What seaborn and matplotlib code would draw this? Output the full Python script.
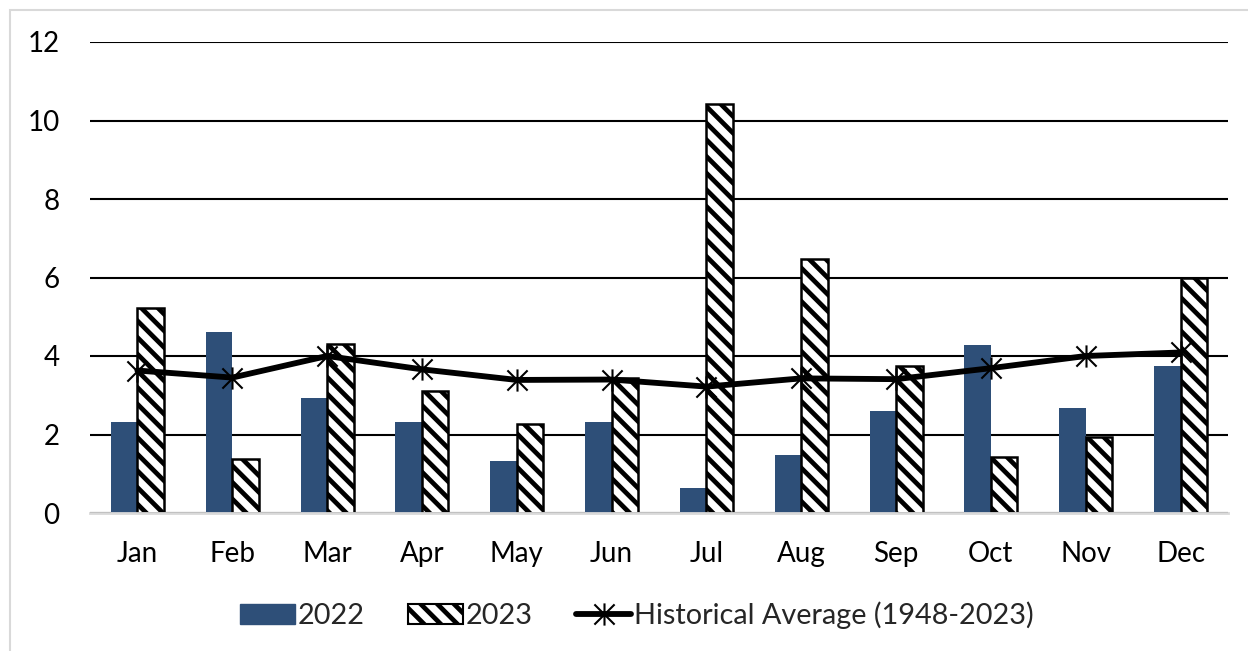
import numpy as np
import pandas as pd
import seaborn as sns
import matplotlib.pyplot as plt
from matplotlib.path import Path
from matplotlib.patches import Patch, Rectangle
from matplotlib.lines import Line2D

months = ["Jan", "Feb", "Mar", "Apr", "May", "Jun",
          "Jul", "Aug", "Sep", "Oct", "Nov", "Dec"]
vals_2022 = [2.33, 4.60, 2.93, 2.31, 1.32, 2.33, 0.63, 1.47, 2.60, 4.27, 2.68, 3.75]
vals_2023 = [5.23, 1.37, 4.30, 3.11, 2.27, 3.45, 10.41, 6.46, 3.75, 1.43, 1.93, 5.98]
hist_avg = [3.63, 3.45, 4.00, 3.66, 3.39, 3.40, 3.22, 3.43, 3.41, 3.69, 4.00, 4.09]
yticks = [0, 2, 4, 6, 8, 10, 12]

BLUE = "#2E4F78"
HATCH = "\\\\"
FS = 20

sns.set_theme(style="white")
plt.rcParams["font.family"] = ["Lato", "DejaVu Sans"]
plt.rcParams["hatch.linewidth"] = 3.4
plt.rcParams["hatch.color"] = "black"

df = pd.DataFrame({
    "month": months * 2,
    "value": vals_2022 + vals_2023,
    "year": ["2022"] * 12 + ["2023"] * 12,
})

fig = plt.figure(figsize=(12.48, 6.51), dpi=100)
ax = fig.add_axes([90 / 1248, 1 - 513 / 651, (1228 - 90) / 1248, (513 - 42) / 651])

sns.barplot(data=df, x="month", y="value", hue="year", order=months,
            hue_order=["2022", "2023"], palette={"2022": BLUE, "2023": "white"},
            saturation=1, width=0.56, gap=0, ax=ax, legend=False, errorbar=None)

n = len(months)
for i, bar in enumerate(ax.patches[:2 * n]):
    if i >= n:
        bar.set_hatch(HATCH)
        bar.set_edgecolor("black")
        bar.set_linewidth(1.8)
    else:
        bar.set_edgecolor(BLUE)
        bar.set_linewidth(0)

# asterisk-style marker: an X crossed by a vertical stroke
star = Path([(-1, -1), (1, 1), (-1, 1), (1, -1), (0, -1.1), (0, 1.1)],
            [Path.MOVETO, Path.LINETO, Path.MOVETO, Path.LINETO, Path.MOVETO, Path.LINETO])

sns.lineplot(x=np.arange(n), y=hist_avg, ax=ax, color="black", lw=4.2,
             marker=star, markersize=16, markeredgewidth=1.5,
             markeredgecolor="black", markerfacecolor="none", zorder=5)

ax.set_xlim(-0.5, n - 0.5)
ax.set_ylim(0, 12)
ax.set_yticks(yticks)
ax.set_yticklabels([str(t) for t in yticks])
ax.yaxis.grid(True, color="black", lw=1.5)
ax.set_axisbelow(True)
for s in ["top", "right", "left"]:
    ax.spines[s].set_visible(False)
ax.spines["bottom"].set_color("#D9D9D9")
ax.spines["bottom"].set_linewidth(2)
ax.set_xlabel("")
ax.set_ylabel("")
ax.tick_params(axis="both", length=0, labelsize=FS, colors="black")
ax.tick_params(axis="y", pad=22)
ax.tick_params(axis="x", pad=20)

handles = [
    Patch(facecolor=BLUE, edgecolor=BLUE, label="2022"),
    Patch(facecolor="white", edgecolor="black", hatch=HATCH, lw=1.5, label="2023"),
    Line2D([0], [0], color="black", lw=4.2, marker=star, markersize=16,
           markeredgewidth=1.5, label="Historical Average (1948-2023)"),
]
fig.legend(handles=handles, loc="center", bbox_to_anchor=(637 / 1248, 1 - 615 / 651),
           ncol=3, frameon=False, fontsize=20.8, handlelength=1.9,
           handleheight=0.7, handletextpad=0.1, columnspacing=1.5)

# light frame around the chart
fig.add_artist(Rectangle((10 / 1248, -0.05), 1.1, 1 - 10 / 651 + 0.05,
                         transform=fig.transFigure, fill=False,
                         edgecolor="#D9D9D9", lw=1.5))

fig.savefig("out.png", dpi=100)
